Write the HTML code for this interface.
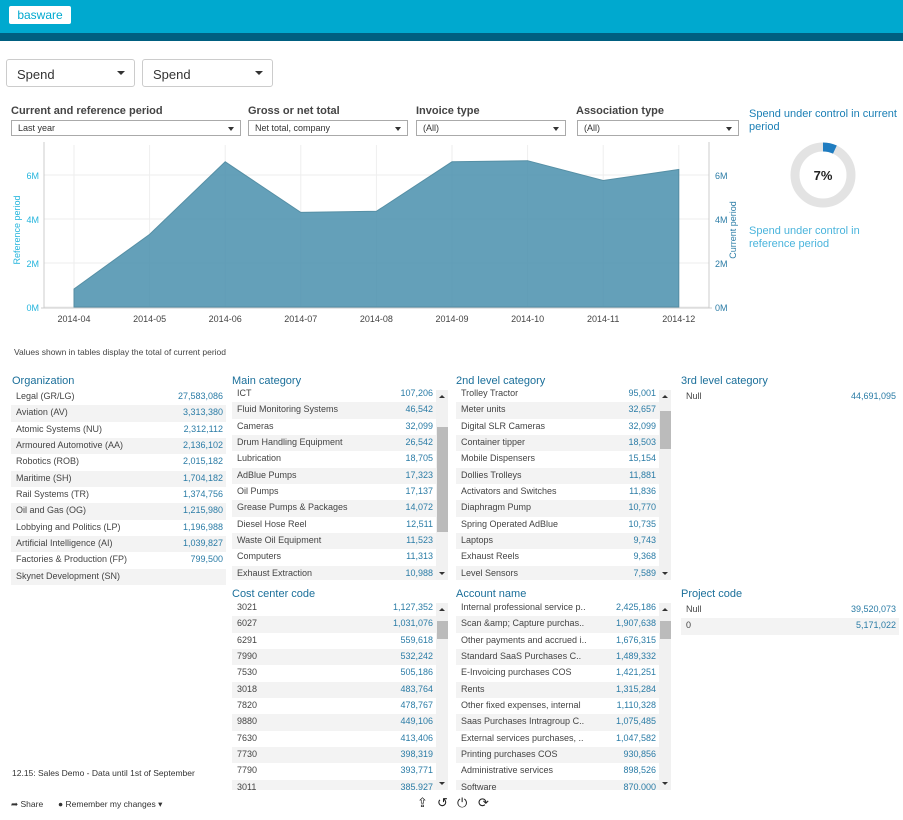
<!DOCTYPE html>
<html><head><meta charset="utf-8"><style>
*{box-sizing:border-box}
body{margin:0;width:903px;height:820px;overflow:hidden;background:#fff;font-family:"Liberation Sans",sans-serif;position:relative;color:#444}
.abs{position:absolute}
.sel{position:absolute;border:1px solid #ccc;border-radius:3px;background:#fff;font-size:13px;color:#333}
.sel .ar{position:absolute;right:9px;top:50%;margin-top:-2px;border-left:4px solid transparent;border-right:4px solid transparent;border-top:4px solid #333}
.flab{position:absolute;font-size:11px;font-weight:bold;color:#444}
.fsel{position:absolute;height:16px;border:1px solid #aaa;font-size:9px;padding:2px 6px;color:#333;background:#fff}
.fsel .ar{position:absolute;right:6px;top:6px;border-left:3px solid transparent;border-right:3px solid transparent;border-top:4px solid #333}
.ttl{position:absolute;font-size:11px;color:#1b6f9a}
.tbl{position:absolute;overflow:hidden}
.row{height:16.35px;font-size:9px;line-height:15px;position:relative;padding-left:5px;color:#444;white-space:nowrap}
.row:nth-child(even){background:#f3f3f3}
.row .v{position:absolute;right:3px;top:0;color:#2b7ca6}
.sb{position:absolute;width:12px;background:#f1f1f1}
.sb .th{position:absolute;left:1px;width:11px;background:#bbb}
.sb .up,.sb .dn{position:absolute;left:3px;border-left:3px solid transparent;border-right:3px solid transparent}
.sb .up{top:5px;border-bottom:3px solid #333}.sb .dn{bottom:5px;border-top:3px solid #333}
</style></head><body>
<div class="abs" style="left:0;top:0;width:903px;height:33px;background:#00a9cf"></div>
<div class="abs" style="left:0;top:33px;width:903px;height:8px;background:#005f80"></div>
<div class="abs" style="left:9px;top:6px;width:62px;height:18px;background:#fff;border-radius:2px;color:#00a9cf;font-size:12px;line-height:18px;text-align:center">basware</div>

<div class="sel" style="left:6px;top:59px;width:129px;height:28px;padding:7px 10px">Spend<span class="ar"></span></div>
<div class="sel" style="left:142px;top:59px;width:131px;height:28px;padding:7px 10px">Spend<span class="ar"></span></div>

<div class="flab" style="left:11px;top:105px">Current and reference period</div>
<div class="fsel" style="left:11px;top:120px;width:230px">Last year<span class="ar"></span></div>
<div class="flab" style="left:248px;top:105px">Gross or net total</div>
<div class="fsel" style="left:248px;top:120px;width:160px">Net total, company<span class="ar"></span></div>
<div class="flab" style="left:416px;top:105px">Invoice type</div>
<div class="fsel" style="left:416px;top:120px;width:150px">(All)<span class="ar"></span></div>
<div class="flab" style="left:576px;top:105px">Association type</div>
<div class="fsel" style="left:577px;top:120px;width:162px">(All)<span class="ar"></span></div>

<svg class="abs" style="left:0;top:140px" width="745" height="195" id="chart"></svg>

<div class="abs" style="left:749px;top:108px;font-size:11px;color:#1b7fb5;width:150px;line-height:13px">Spend under control in current period</div>
<svg class="abs" style="left:785px;top:137px" width="76" height="76">
<circle cx="38" cy="38" r="28" fill="none" stroke="#e3e3e3" stroke-width="9"/>
<path d="M38 10 A28 28 0 0 1 49.9 12.6" fill="none" stroke="#1f7cc0" stroke-width="9"/>
<text x="38" y="43" text-anchor="middle" font-size="13" font-weight="bold" fill="#222" font-family="Liberation Sans">7%</text>
</svg>
<div class="abs" style="left:749px;top:225px;font-size:11px;color:#4ab4dc;width:150px;line-height:13px">Spend under control in reference period</div>

<div class="abs" style="left:14px;top:347px;font-size:8.5px;color:#444">Values shown in tables display the total of current period</div>

<div class="ttl" style="left:12px;top:375px">Organization</div>
<div class="tbl" id="t-org" style="left:11px;top:389px;width:215px;height:198px"></div>
<div class="ttl" style="left:232px;top:375px">Main category</div>
<div class="tbl" id="t-main" style="left:232px;top:386px;width:204px;height:194px"></div>
<div class="sb" style="left:436px;top:390px;height:190px"><div class="up"></div><div class="th" style="top:37px;height:105px"></div><div class="dn"></div></div>
<div class="ttl" style="left:456px;top:375px">2nd level category</div>
<div class="tbl" id="t-l2" style="left:456px;top:386px;width:203px;height:194px"></div>
<div class="sb" style="left:659px;top:390px;height:190px"><div class="up"></div><div class="th" style="top:21px;height:38px"></div><div class="dn"></div></div>
<div class="ttl" style="left:681px;top:375px">3rd level category</div>
<div class="tbl" id="t-l3" style="left:681px;top:389px;width:218px;height:20px"></div>

<div class="ttl" style="left:232px;top:588px">Cost center code</div>
<div class="tbl" id="t-cc" style="left:232px;top:600px;width:204px;height:190px"></div>
<div class="sb" style="left:436px;top:603px;height:187px"><div class="up"></div><div class="th" style="top:18px;height:18px"></div><div class="dn"></div></div>
<div class="ttl" style="left:456px;top:588px">Account name</div>
<div class="tbl" id="t-acc" style="left:456px;top:600px;width:203px;height:190px"></div>
<div class="sb" style="left:659px;top:603px;height:187px"><div class="up"></div><div class="th" style="top:18px;height:18px"></div><div class="dn"></div></div>
<div class="ttl" style="left:681px;top:588px">Project code</div>
<div class="tbl" id="t-pc" style="left:681px;top:602px;width:218px;height:34px"></div>

<div class="abs" style="left:12px;top:768px;font-size:8.5px;color:#333">12.15: Sales Demo - Data until 1st of September</div>
<div class="abs" style="left:11px;top:799px;font-size:8.5px;color:#333">➦ Share</div>
<div class="abs" style="left:58px;top:799px;font-size:8.5px;color:#333">● Remember my changes ▾</div>
<div class="abs" style="left:417px;top:795px;font-size:13px;color:#222">⇪</div>
<div class="abs" style="left:437px;top:795px;font-size:13px;color:#222">↺</div>
<div class="abs" style="left:457px;top:795px;font-size:13px;color:#222">⏻</div>
<div class="abs" style="left:478px;top:795px;font-size:13px;color:#222">⟳</div>

<script>
const months=["2014-04","2014-05","2014-06","2014-07","2014-08","2014-09","2014-10","2014-11","2014-12"];
const spend=[0.82,3.3,6.6,4.3,4.35,6.6,6.65,5.75,6.25];
const yTicks=[0,2,4,6];
const NS="http://www.w3.org/2000/svg";
const svg=document.getElementById('chart');
const X=i=>74+i*75.6, Y=v=>167-v*22;
function mk(t,a){const e=document.createElementNS(NS,t);for(const k in a)e.setAttribute(k,a[k]);svg.appendChild(e);return e;}
months.forEach((m,i)=>{const g=mk('line',{x1:X(i),x2:X(i),y1:5,y2:167,stroke:'#eee'});


const t=mk('text',{x:X(i),y:182,'text-anchor':'middle','font-size':9,fill:'#444','font-family':'Liberation Sans'});t.textContent=m;

});
yTicks.forEach(v=>{const g=mk('line',{x1:44,x2:709,y1:Y(v),y2:Y(v),stroke:'#eee'});


const a=mk('text',{x:39,y:Y(v)+4,'text-anchor':'end','font-size':9,fill:'#25b5dd','font-family':'Liberation Sans'});a.textContent=v+'M';


const b=mk('text',{x:715,y:Y(v)+4,'font-size':9,fill:'#2b7ca6','font-family':'Liberation Sans'});b.textContent=v+'M';

});
let d='M'+X(0)+' '+Y(0);spend.forEach((v,i)=>d+=' L'+X(i)+' '+Y(v));d+=' L'+X(spend.length-1)+' '+Y(0)+' Z';
const area=mk('path',{d:d,fill:'#4f93b0',opacity:0.88,stroke:'#3f8099','stroke-width':1});


const ax1=mk('line',{x1:44,x2:44,y1:2,y2:168,stroke:'#ccc'});


const ax2=mk('line',{x1:709,x2:709,y1:2,y2:168,stroke:'#ccc'});


const ax3=mk('line',{x1:41,x2:712,y1:168,y2:168,stroke:'#ccc'});


const lt=mk('text',{transform:'translate(20,90) rotate(-90)','text-anchor':'middle','font-size':9,fill:'#25b5dd','font-family':'Liberation Sans'});lt.textContent='Reference period';


const rt=mk('text',{transform:'translate(736,90) rotate(-90)','text-anchor':'middle','font-size':9,fill:'#2b7ca6','font-family':'Liberation Sans'});rt.textContent='Current period';



const orgNames=["Legal (GR/LG)","Aviation (AV)","Atomic Systems (NU)","Armoured Automotive (AA)","Robotics (ROB)","Maritime (SH)","Rail Systems (TR)","Oil and Gas (OG)","Lobbying and Politics (LP)","Artificial Intelligence (AI)","Factories & Production (FP)","Skynet Development (SN)"];
const orgVals=["27,583,086","3,313,380","2,312,112","2,136,102","2,015,182","1,704,182","1,374,756","1,215,980","1,196,988","1,039,827","799,500",""];
const mainNames=["ICT","Fluid Monitoring Systems","Cameras","Drum Handling Equipment","Lubrication","AdBlue Pumps","Oil Pumps","Grease Pumps & Packages","Diesel Hose Reel","Waste Oil Equipment","Computers","Exhaust Extraction"];
const mainVals=["107,206","46,542","32,099","26,542","18,705","17,323","17,137","14,072","12,511","11,523","11,313","10,988"];
const l2Names=["Trolley Tractor","Meter units","Digital SLR Cameras","Container tipper","Mobile Dispensers","Dollies Trolleys","Activators and Switches","Diaphragm Pump","Spring Operated AdBlue","Laptops","Exhaust Reels","Level Sensors"];
const l2Vals=["95,001","32,657","32,099","18,503","15,154","11,881","11,836","10,770","10,735","9,743","9,368","7,589"];
const l3Names=["Null"];const l3Vals=["44,691,095"];
const ccNames=["3021","6027","6291","7990","7530","3018","7820","9880","7630","7730","7790","3011"];
const ccVals=["1,127,352","1,031,076","559,618","532,242","505,186","483,764","478,767","449,106","413,406","398,319","393,771","385,927"];
const accNames=["Internal professional service p..","Scan &amp; Capture purchas..","Other payments and accrued i..","Standard SaaS Purchases C..","E-Invoicing purchases COS","Rents","Other fixed expenses, internal","Saas Purchases Intragroup C..","External services purchases, ..","Printing purchases COS","Administrative services","Software"];
const accVals=["2,425,186","1,907,638","1,676,315","1,489,332","1,421,251","1,315,284","1,110,328","1,075,485","1,047,582","930,856","898,526","870,000"];
const pcNames=["Null","0"];const pcVals=["39,520,073","5,171,022"];
function fill(id,names,vals){const t=document.getElementById(id);names.forEach((n,i)=>{const r=document.createElement('div');r.className='row';


const s=document.createElement('span');s.textContent=n;r.appendChild(s);const v=document.createElement('span');v.className='v';v.textContent=vals[i];r.appendChild(v);t.appendChild(r);});}
fill('t-org',orgNames,orgVals);fill('t-main',mainNames,mainVals);fill('t-l2',l2Names,l2Vals);fill('t-l3',l3Names,l3Vals);
fill('t-cc',ccNames,ccVals);fill('t-acc',accNames,accVals);fill('t-pc',pcNames,pcVals);
</script>
</body></html>
